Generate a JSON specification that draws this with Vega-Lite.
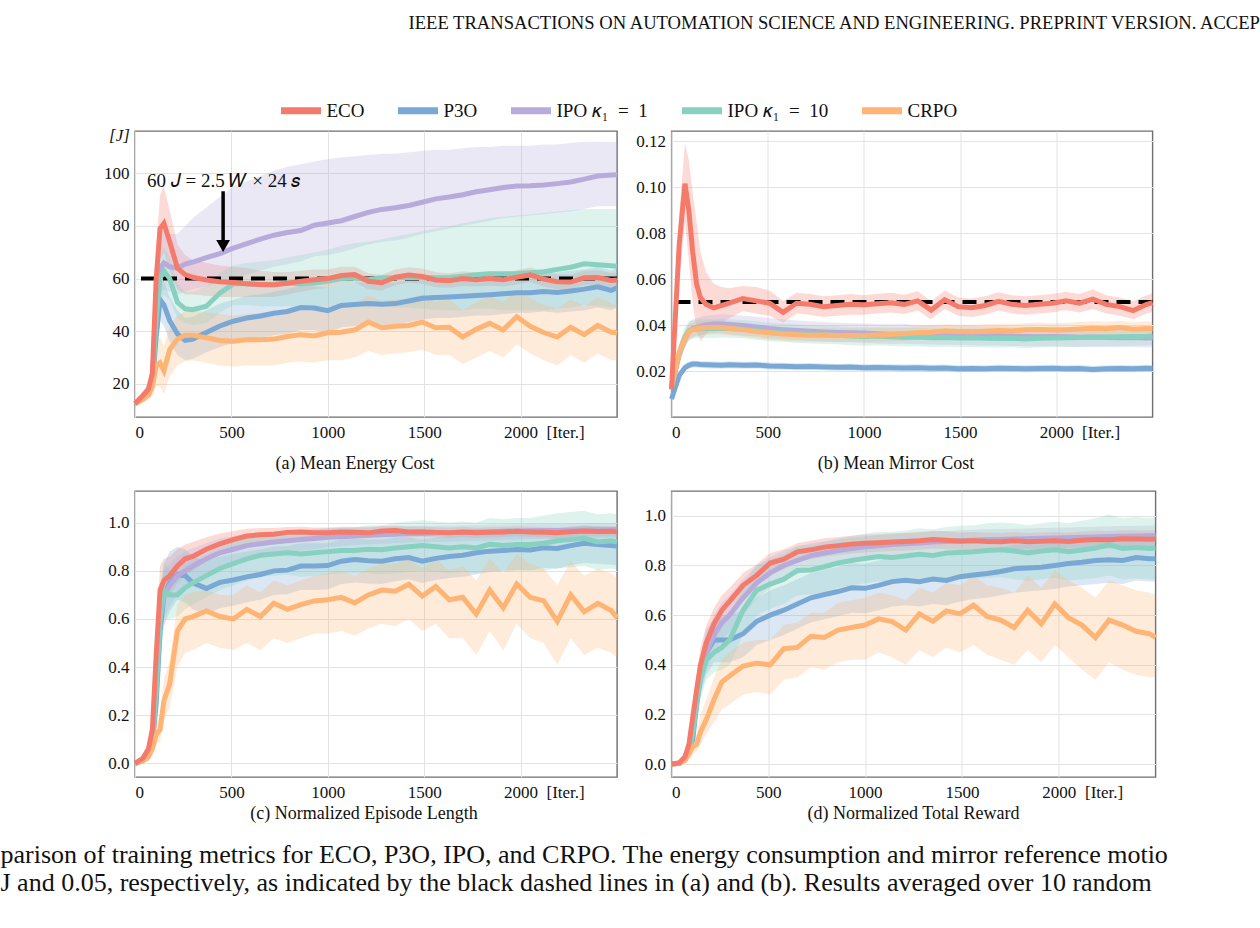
{
  "$schema": "https://vega.github.io/schema/vega-lite/v6.json",
  "background": "white",
  "padding": {"left": 0, "top": 13, "right": 0, "bottom": 0},
  "title": {
    "text": "IEEE TRANSACTIONS ON AUTOMATION SCIENCE AND ENGINEERING. PREPRINT VERSION. ACCEP",
    "orient": "top", "anchor": "start", "frame": "group", "dx": 273.5, "offset": 54,
    "font": "Liberation Serif", "fontSize": 18.6, "fontWeight": "normal", "color": "#111"
  },
  "datasets": {
    "energy": [
      {"algo":"ECO","it":0,"m":12.5,"lo":11.5,"hi":13.5},{"algo":"ECO","it":40,"m":15.5,"lo":14.5,"hi":16.8},{"algo":"ECO","it":70,"m":18,"lo":16,"hi":20.5},{"algo":"ECO","it":90,"m":24,"lo":19,"hi":31},{"algo":"ECO","it":110,"m":60,"lo":48,"hi":72},{"algo":"ECO","it":130,"m":79,"lo":67,"hi":92},{"algo":"ECO","it":150,"m":81,"lo":70,"hi":95},{"algo":"ECO","it":180,"m":74,"lo":63,"hi":86},{"algo":"ECO","it":220,"m":64,"lo":56,"hi":73},{"algo":"ECO","it":260,"m":61.5,"lo":54,"hi":69},{"algo":"ECO","it":300,"m":60.5,"lo":54,"hi":67},{"algo":"ECO","it":370,"m":59.5,"lo":53.5,"hi":66},{"algo":"ECO","it":440,"m":58.8,"lo":53,"hi":65},{"algo":"ECO","it":510,"m":58.5,"lo":53,"hi":64.5},{"algo":"ECO","it":580,"m":58,"lo":53,"hi":64},{"algo":"ECO","it":650,"m":57.8,"lo":53,"hi":63},{"algo":"ECO","it":720,"m":57.7,"lo":53,"hi":62.5},{"algo":"ECO","it":790,"m":58.2,"lo":54,"hi":62.5},{"algo":"ECO","it":860,"m":59,"lo":55,"hi":63},{"algo":"ECO","it":930,"m":59.6,"lo":56,"hi":63.5},{"algo":"ECO","it":1000,"m":60,"lo":56.5,"hi":63.5},{"algo":"ECO","it":1070,"m":61.2,"lo":58,"hi":64.5},{"algo":"ECO","it":1140,"m":61.5,"lo":58.5,"hi":64.5},{"algo":"ECO","it":1210,"m":59,"lo":56,"hi":62},{"algo":"ECO","it":1280,"m":58.4,"lo":55.5,"hi":61.5},{"algo":"ECO","it":1350,"m":60.5,"lo":57.5,"hi":63.5},{"algo":"ECO","it":1420,"m":61.4,"lo":58.5,"hi":64.3},{"algo":"ECO","it":1490,"m":60.8,"lo":58,"hi":63.8},{"algo":"ECO","it":1560,"m":59.5,"lo":56.7,"hi":62.4},{"algo":"ECO","it":1630,"m":59.2,"lo":56.5,"hi":62},{"algo":"ECO","it":1700,"m":60,"lo":57.2,"hi":62.8},{"algo":"ECO","it":1770,"m":59.6,"lo":57,"hi":62.4},{"algo":"ECO","it":1840,"m":60,"lo":57.3,"hi":62.8},{"algo":"ECO","it":1910,"m":59.6,"lo":57,"hi":62.3},{"algo":"ECO","it":1980,"m":60.5,"lo":57.8,"hi":63.2},{"algo":"ECO","it":2050,"m":61.4,"lo":58.7,"hi":64.2},{"algo":"ECO","it":2120,"m":59.8,"lo":57,"hi":62.6},{"algo":"ECO","it":2190,"m":58.8,"lo":56,"hi":61.6},{"algo":"ECO","it":2260,"m":58.7,"lo":56,"hi":61.5},{"algo":"ECO","it":2330,"m":60.3,"lo":57.5,"hi":63.1},{"algo":"ECO","it":2400,"m":60.4,"lo":57.6,"hi":63.2},{"algo":"ECO","it":2470,"m":59.3,"lo":56.5,"hi":62.1},{"algo":"ECO","it":2500,"m":59.5,"lo":56.7,"hi":62.3},
      {"algo":"P3O","it":0,"m":12.5,"lo":11.5,"hi":13.5},{"algo":"P3O","it":40,"m":14.5,"lo":13.5,"hi":15.8},{"algo":"P3O","it":70,"m":16,"lo":14.5,"hi":17.8},{"algo":"P3O","it":90,"m":20,"lo":16,"hi":25},{"algo":"P3O","it":110,"m":38,"lo":30,"hi":47},{"algo":"P3O","it":130,"m":52,"lo":44,"hi":62},{"algo":"P3O","it":150,"m":50,"lo":42,"hi":59},{"algo":"P3O","it":180,"m":44,"lo":36,"hi":53},{"algo":"P3O","it":220,"m":39,"lo":31,"hi":48},{"algo":"P3O","it":260,"m":36.5,"lo":29,"hi":45},{"algo":"P3O","it":300,"m":37,"lo":29.5,"hi":45.5},{"algo":"P3O","it":370,"m":39.5,"lo":32,"hi":48},{"algo":"P3O","it":440,"m":42,"lo":34,"hi":50.5},{"algo":"P3O","it":510,"m":43.8,"lo":35.5,"hi":52},{"algo":"P3O","it":580,"m":45,"lo":37,"hi":53.5},{"algo":"P3O","it":650,"m":45.8,"lo":37.5,"hi":54},{"algo":"P3O","it":720,"m":46.8,"lo":38.5,"hi":55},{"algo":"P3O","it":790,"m":47.5,"lo":39,"hi":56},{"algo":"P3O","it":860,"m":49,"lo":40.5,"hi":57.5},{"algo":"P3O","it":930,"m":48.8,"lo":40.5,"hi":57},{"algo":"P3O","it":1000,"m":47.8,"lo":39.5,"hi":56.5},{"algo":"P3O","it":1070,"m":49.8,"lo":41.5,"hi":58},{"algo":"P3O","it":1140,"m":50.2,"lo":42,"hi":58.5},{"algo":"P3O","it":1210,"m":50.5,"lo":42.5,"hi":58.5},{"algo":"P3O","it":1280,"m":50.3,"lo":42.5,"hi":58.5},{"algo":"P3O","it":1350,"m":50.5,"lo":42.5,"hi":58.5},{"algo":"P3O","it":1420,"m":51.5,"lo":43.5,"hi":59.5},{"algo":"P3O","it":1490,"m":52.5,"lo":44.5,"hi":60.5},{"algo":"P3O","it":1560,"m":52.8,"lo":45,"hi":60.5},{"algo":"P3O","it":1630,"m":53,"lo":45,"hi":61},{"algo":"P3O","it":1700,"m":53.3,"lo":45.5,"hi":61},{"algo":"P3O","it":1770,"m":53.6,"lo":46,"hi":61.5},{"algo":"P3O","it":1840,"m":53.9,"lo":46,"hi":61.5},{"algo":"P3O","it":1910,"m":54.2,"lo":46.5,"hi":62},{"algo":"P3O","it":1980,"m":54.6,"lo":47,"hi":62},{"algo":"P3O","it":2050,"m":54.6,"lo":47,"hi":62.3},{"algo":"P3O","it":2120,"m":55.1,"lo":47.5,"hi":62.7},{"algo":"P3O","it":2190,"m":54.7,"lo":47,"hi":62.3},{"algo":"P3O","it":2260,"m":55.3,"lo":47.5,"hi":63},{"algo":"P3O","it":2330,"m":56,"lo":48,"hi":63.5},{"algo":"P3O","it":2400,"m":56.9,"lo":49,"hi":64.5},{"algo":"P3O","it":2470,"m":55.5,"lo":48,"hi":63},{"algo":"P3O","it":2500,"m":56.5,"lo":49,"hi":64},
      {"algo":"IPO1","it":0,"m":12.5,"lo":11.5,"hi":13.5},{"algo":"IPO1","it":40,"m":14.5,"lo":13.5,"hi":15.8},{"algo":"IPO1","it":70,"m":16.5,"lo":15,"hi":18.5},{"algo":"IPO1","it":90,"m":22,"lo":17,"hi":28},{"algo":"IPO1","it":110,"m":50,"lo":40,"hi":60},{"algo":"IPO1","it":130,"m":64,"lo":54,"hi":75},{"algo":"IPO1","it":150,"m":66,"lo":56,"hi":78},{"algo":"IPO1","it":180,"m":64.5,"lo":55,"hi":77},{"algo":"IPO1","it":220,"m":64,"lo":54,"hi":77},{"algo":"IPO1","it":260,"m":65.5,"lo":55,"hi":80},{"algo":"IPO1","it":300,"m":66.3,"lo":56,"hi":83},{"algo":"IPO1","it":370,"m":68,"lo":57,"hi":87},{"algo":"IPO1","it":440,"m":69.5,"lo":58.5,"hi":91},{"algo":"IPO1","it":510,"m":71.6,"lo":60,"hi":95},{"algo":"IPO1","it":580,"m":73.3,"lo":61.5,"hi":97},{"algo":"IPO1","it":650,"m":75,"lo":63,"hi":99},{"algo":"IPO1","it":720,"m":76.5,"lo":64.5,"hi":101},{"algo":"IPO1","it":790,"m":77.5,"lo":65.5,"hi":102.5},{"algo":"IPO1","it":860,"m":78.3,"lo":66.5,"hi":103.5},{"algo":"IPO1","it":930,"m":80.3,"lo":68.5,"hi":104.5},{"algo":"IPO1","it":1000,"m":81.1,"lo":69,"hi":105.5},{"algo":"IPO1","it":1070,"m":82,"lo":70,"hi":106},{"algo":"IPO1","it":1140,"m":83.6,"lo":71.5,"hi":106.5},{"algo":"IPO1","it":1210,"m":85.2,"lo":73,"hi":107},{"algo":"IPO1","it":1280,"m":86.3,"lo":74,"hi":107.5},{"algo":"IPO1","it":1350,"m":86.9,"lo":74.5,"hi":107.5},{"algo":"IPO1","it":1420,"m":87.8,"lo":75.5,"hi":108},{"algo":"IPO1","it":1490,"m":89,"lo":77,"hi":108.5},{"algo":"IPO1","it":1560,"m":90.3,"lo":78,"hi":109},{"algo":"IPO1","it":1630,"m":91,"lo":79,"hi":109},{"algo":"IPO1","it":1700,"m":91.9,"lo":80,"hi":109.5},{"algo":"IPO1","it":1770,"m":93,"lo":81,"hi":110},{"algo":"IPO1","it":1840,"m":93.8,"lo":82,"hi":110},{"algo":"IPO1","it":1910,"m":94.6,"lo":83,"hi":110.5},{"algo":"IPO1","it":1980,"m":95.2,"lo":83.5,"hi":110.5},{"algo":"IPO1","it":2050,"m":95.3,"lo":84,"hi":110.5},{"algo":"IPO1","it":2120,"m":95.6,"lo":84.5,"hi":111},{"algo":"IPO1","it":2190,"m":96.1,"lo":85,"hi":111},{"algo":"IPO1","it":2260,"m":96.7,"lo":85.5,"hi":111.5},{"algo":"IPO1","it":2330,"m":97.8,"lo":86.5,"hi":112},{"algo":"IPO1","it":2400,"m":99,"lo":87.5,"hi":112},{"algo":"IPO1","it":2470,"m":99.4,"lo":87.5,"hi":112},{"algo":"IPO1","it":2500,"m":99.5,"lo":87.5,"hi":112},
      {"algo":"IPO10","it":0,"m":12.5,"lo":11.5,"hi":13.5},{"algo":"IPO10","it":40,"m":14.5,"lo":13.5,"hi":15.8},{"algo":"IPO10","it":70,"m":16.5,"lo":15,"hi":18.5},{"algo":"IPO10","it":90,"m":21,"lo":16.5,"hi":26},{"algo":"IPO10","it":110,"m":45,"lo":37,"hi":54},{"algo":"IPO10","it":130,"m":60,"lo":51,"hi":69},{"algo":"IPO10","it":150,"m":63,"lo":54,"hi":72},{"algo":"IPO10","it":180,"m":60,"lo":52,"hi":68},{"algo":"IPO10","it":220,"m":51,"lo":45,"hi":58},{"algo":"IPO10","it":260,"m":48.5,"lo":43,"hi":55},{"algo":"IPO10","it":300,"m":48.2,"lo":42.5,"hi":55},{"algo":"IPO10","it":370,"m":49.5,"lo":43,"hi":57},{"algo":"IPO10","it":440,"m":54.5,"lo":47,"hi":62},{"algo":"IPO10","it":510,"m":58,"lo":50,"hi":65},{"algo":"IPO10","it":580,"m":58,"lo":50,"hi":66},{"algo":"IPO10","it":650,"m":57.7,"lo":49.5,"hi":66.5},{"algo":"IPO10","it":720,"m":57.8,"lo":49.5,"hi":67},{"algo":"IPO10","it":790,"m":58.3,"lo":49.5,"hi":68},{"algo":"IPO10","it":860,"m":58,"lo":49,"hi":69},{"algo":"IPO10","it":930,"m":58.3,"lo":49,"hi":70},{"algo":"IPO10","it":1000,"m":59,"lo":49.5,"hi":71},{"algo":"IPO10","it":1070,"m":60,"lo":50,"hi":72.5},{"algo":"IPO10","it":1140,"m":60.2,"lo":50,"hi":73.5},{"algo":"IPO10","it":1210,"m":59.6,"lo":49,"hi":74},{"algo":"IPO10","it":1280,"m":60.3,"lo":49.5,"hi":75},{"algo":"IPO10","it":1350,"m":60.3,"lo":49,"hi":76},{"algo":"IPO10","it":1420,"m":60.5,"lo":49,"hi":77},{"algo":"IPO10","it":1490,"m":60.4,"lo":48.5,"hi":78},{"algo":"IPO10","it":1560,"m":60.3,"lo":48,"hi":79},{"algo":"IPO10","it":1630,"m":60.4,"lo":48,"hi":80},{"algo":"IPO10","it":1700,"m":60.9,"lo":48,"hi":81},{"algo":"IPO10","it":1770,"m":61.5,"lo":48.5,"hi":82},{"algo":"IPO10","it":1840,"m":61.8,"lo":48.5,"hi":83},{"algo":"IPO10","it":1910,"m":61.8,"lo":48,"hi":83.5},{"algo":"IPO10","it":1980,"m":61.9,"lo":48,"hi":84},{"algo":"IPO10","it":2050,"m":62.2,"lo":48,"hi":84.5},{"algo":"IPO10","it":2120,"m":62.6,"lo":48,"hi":85},{"algo":"IPO10","it":2190,"m":63.5,"lo":48.5,"hi":85.5},{"algo":"IPO10","it":2260,"m":64.3,"lo":49,"hi":86},{"algo":"IPO10","it":2330,"m":65.6,"lo":50,"hi":86.5},{"algo":"IPO10","it":2400,"m":65.3,"lo":49.5,"hi":86.5},{"algo":"IPO10","it":2470,"m":64.9,"lo":49,"hi":86.5},{"algo":"IPO10","it":2500,"m":64.7,"lo":49,"hi":86.5},
      {"algo":"CRPO","it":0,"m":12.5,"lo":11.5,"hi":13.5},{"algo":"CRPO","it":40,"m":14,"lo":13,"hi":15.5},{"algo":"CRPO","it":70,"m":16,"lo":14,"hi":18.5},{"algo":"CRPO","it":90,"m":19,"lo":15,"hi":24},{"algo":"CRPO","it":110,"m":27,"lo":19,"hi":35},{"algo":"CRPO","it":130,"m":28,"lo":19,"hi":38},{"algo":"CRPO","it":150,"m":25,"lo":16,"hi":34},{"algo":"CRPO","it":180,"m":33,"lo":23,"hi":42},{"algo":"CRPO","it":220,"m":37,"lo":27,"hi":46},{"algo":"CRPO","it":260,"m":38.5,"lo":28.5,"hi":47.5},{"algo":"CRPO","it":300,"m":38.5,"lo":29,"hi":48},{"algo":"CRPO","it":370,"m":37.5,"lo":28,"hi":47},{"algo":"CRPO","it":440,"m":36.5,"lo":27,"hi":46.5},{"algo":"CRPO","it":510,"m":36.2,"lo":26.5,"hi":46},{"algo":"CRPO","it":580,"m":36.8,"lo":27,"hi":46.5},{"algo":"CRPO","it":650,"m":36.8,"lo":27,"hi":47},{"algo":"CRPO","it":720,"m":37,"lo":27,"hi":47},{"algo":"CRPO","it":790,"m":38,"lo":28,"hi":48},{"algo":"CRPO","it":860,"m":38.7,"lo":28.5,"hi":48.5},{"algo":"CRPO","it":930,"m":38.2,"lo":28,"hi":48.5},{"algo":"CRPO","it":1000,"m":39.4,"lo":29,"hi":49.5},{"algo":"CRPO","it":1070,"m":39.6,"lo":29,"hi":50},{"algo":"CRPO","it":1140,"m":40.5,"lo":30,"hi":50.5},{"algo":"CRPO","it":1210,"m":43.5,"lo":32.5,"hi":53.5},{"algo":"CRPO","it":1280,"m":41.3,"lo":31,"hi":51.5},{"algo":"CRPO","it":1350,"m":41.9,"lo":31.5,"hi":52},{"algo":"CRPO","it":1420,"m":42.2,"lo":32,"hi":52.5},{"algo":"CRPO","it":1490,"m":43.5,"lo":33,"hi":54},{"algo":"CRPO","it":1560,"m":41.3,"lo":31,"hi":51.5},{"algo":"CRPO","it":1630,"m":41.5,"lo":31,"hi":52},{"algo":"CRPO","it":1700,"m":37.8,"lo":27.5,"hi":48},{"algo":"CRPO","it":1770,"m":40.8,"lo":30,"hi":51},{"algo":"CRPO","it":1840,"m":43,"lo":32.5,"hi":53.5},{"algo":"CRPO","it":1910,"m":40.5,"lo":30,"hi":51},{"algo":"CRPO","it":1980,"m":45.5,"lo":35,"hi":55.5},{"algo":"CRPO","it":2050,"m":41.9,"lo":31.5,"hi":52.5},{"algo":"CRPO","it":2120,"m":39.5,"lo":29,"hi":50},{"algo":"CRPO","it":2190,"m":37.8,"lo":27,"hi":48.5},{"algo":"CRPO","it":2260,"m":41.5,"lo":31,"hi":52},{"algo":"CRPO","it":2330,"m":38.7,"lo":28,"hi":49.5},{"algo":"CRPO","it":2400,"m":42.2,"lo":31.5,"hi":53},{"algo":"CRPO","it":2470,"m":39.6,"lo":29,"hi":50.5},{"algo":"CRPO","it":2500,"m":39.4,"lo":29,"hi":50}
    ],
    "mirror": [
      {"algo":"ECO","it":0,"m":0.012,"lo":0.010,"hi":0.014},{"algo":"ECO","it":40,"m":0.075,"lo":0.06,"hi":0.088},{"algo":"ECO","it":70,"m":0.1015,"lo":0.085,"hi":0.119},{"algo":"ECO","it":90,"m":0.09,"lo":0.068,"hi":0.112},{"algo":"ECO","it":110,"m":0.072,"lo":0.05,"hi":0.098},{"algo":"ECO","it":130,"m":0.058,"lo":0.038,"hi":0.085},{"algo":"ECO","it":150,"m":0.052,"lo":0.033,"hi":0.072},{"algo":"ECO","it":180,"m":0.049,"lo":0.036,"hi":0.063},{"algo":"ECO","it":220,"m":0.0475,"lo":0.039,"hi":0.058},{"algo":"ECO","it":260,"m":0.0485,"lo":0.041,"hi":0.0565},{"algo":"ECO","it":300,"m":0.0495,"lo":0.043,"hi":0.056},{"algo":"ECO","it":370,"m":0.0515,"lo":0.046,"hi":0.057},{"algo":"ECO","it":440,"m":0.0505,"lo":0.045,"hi":0.0565},{"algo":"ECO","it":510,"m":0.0495,"lo":0.044,"hi":0.055},{"algo":"ECO","it":580,"m":0.0455,"lo":0.041,"hi":0.0505},{"algo":"ECO","it":650,"m":0.0495,"lo":0.045,"hi":0.054},{"algo":"ECO","it":720,"m":0.049,"lo":0.0445,"hi":0.0535},{"algo":"ECO","it":790,"m":0.048,"lo":0.0435,"hi":0.0525},{"algo":"ECO","it":860,"m":0.0485,"lo":0.044,"hi":0.053},{"algo":"ECO","it":930,"m":0.049,"lo":0.0445,"hi":0.0535},{"algo":"ECO","it":1000,"m":0.0488,"lo":0.0445,"hi":0.053},{"algo":"ECO","it":1070,"m":0.0493,"lo":0.045,"hi":0.0536},{"algo":"ECO","it":1140,"m":0.0497,"lo":0.0455,"hi":0.054},{"algo":"ECO","it":1210,"m":0.049,"lo":0.0448,"hi":0.0532},{"algo":"ECO","it":1280,"m":0.0505,"lo":0.0463,"hi":0.0547},{"algo":"ECO","it":1350,"m":0.0465,"lo":0.0425,"hi":0.0505},{"algo":"ECO","it":1420,"m":0.051,"lo":0.047,"hi":0.055},{"algo":"ECO","it":1490,"m":0.048,"lo":0.044,"hi":0.052},{"algo":"ECO","it":1560,"m":0.0475,"lo":0.0435,"hi":0.0515},{"algo":"ECO","it":1630,"m":0.0485,"lo":0.0445,"hi":0.0525},{"algo":"ECO","it":1700,"m":0.0503,"lo":0.0463,"hi":0.0543},{"algo":"ECO","it":1770,"m":0.049,"lo":0.045,"hi":0.053},{"algo":"ECO","it":1840,"m":0.0485,"lo":0.0445,"hi":0.0525},{"algo":"ECO","it":1910,"m":0.049,"lo":0.045,"hi":0.053},{"algo":"ECO","it":1980,"m":0.0495,"lo":0.0455,"hi":0.0535},{"algo":"ECO","it":2050,"m":0.0505,"lo":0.0465,"hi":0.0545},{"algo":"ECO","it":2120,"m":0.0495,"lo":0.0455,"hi":0.0535},{"algo":"ECO","it":2190,"m":0.0513,"lo":0.047,"hi":0.0556},{"algo":"ECO","it":2260,"m":0.049,"lo":0.045,"hi":0.053},{"algo":"ECO","it":2330,"m":0.048,"lo":0.044,"hi":0.052},{"algo":"ECO","it":2400,"m":0.0463,"lo":0.0425,"hi":0.0503},{"algo":"ECO","it":2470,"m":0.049,"lo":0.045,"hi":0.053},{"algo":"ECO","it":2500,"m":0.0498,"lo":0.0458,"hi":0.0538},
      {"algo":"P3O","it":0,"m":0.0078,"lo":0.0068,"hi":0.0088},{"algo":"P3O","it":40,"m":0.018,"lo":0.0165,"hi":0.0195},{"algo":"P3O","it":70,"m":0.0215,"lo":0.02,"hi":0.023},{"algo":"P3O","it":90,"m":0.0225,"lo":0.021,"hi":0.024},{"algo":"P3O","it":110,"m":0.023,"lo":0.0215,"hi":0.0245},{"algo":"P3O","it":130,"m":0.023,"lo":0.0215,"hi":0.0245},{"algo":"P3O","it":150,"m":0.0228,"lo":0.0213,"hi":0.0243},{"algo":"P3O","it":180,"m":0.0227,"lo":0.0212,"hi":0.0242},{"algo":"P3O","it":220,"m":0.0226,"lo":0.0211,"hi":0.0241},{"algo":"P3O","it":260,"m":0.0225,"lo":0.021,"hi":0.024},{"algo":"P3O","it":300,"m":0.0227,"lo":0.0212,"hi":0.0242},{"algo":"P3O","it":370,"m":0.0225,"lo":0.021,"hi":0.024},{"algo":"P3O","it":440,"m":0.0226,"lo":0.0211,"hi":0.0241},{"algo":"P3O","it":510,"m":0.0222,"lo":0.0207,"hi":0.0237},{"algo":"P3O","it":580,"m":0.0221,"lo":0.0206,"hi":0.0236},{"algo":"P3O","it":650,"m":0.0219,"lo":0.0204,"hi":0.0234},{"algo":"P3O","it":720,"m":0.022,"lo":0.0205,"hi":0.0235},{"algo":"P3O","it":790,"m":0.0218,"lo":0.0203,"hi":0.0233},{"algo":"P3O","it":860,"m":0.0216,"lo":0.0201,"hi":0.0231},{"algo":"P3O","it":930,"m":0.0217,"lo":0.0202,"hi":0.0232},{"algo":"P3O","it":1000,"m":0.0214,"lo":0.0199,"hi":0.0229},{"algo":"P3O","it":1070,"m":0.0215,"lo":0.02,"hi":0.023},{"algo":"P3O","it":1140,"m":0.0214,"lo":0.0199,"hi":0.0229},{"algo":"P3O","it":1210,"m":0.0213,"lo":0.0198,"hi":0.0228},{"algo":"P3O","it":1280,"m":0.0214,"lo":0.0199,"hi":0.0229},{"algo":"P3O","it":1350,"m":0.0212,"lo":0.0197,"hi":0.0227},{"algo":"P3O","it":1420,"m":0.0213,"lo":0.0198,"hi":0.0228},{"algo":"P3O","it":1490,"m":0.021,"lo":0.0195,"hi":0.0225},{"algo":"P3O","it":1560,"m":0.0211,"lo":0.0196,"hi":0.0226},{"algo":"P3O","it":1630,"m":0.021,"lo":0.0195,"hi":0.0225},{"algo":"P3O","it":1700,"m":0.0212,"lo":0.0197,"hi":0.0227},{"algo":"P3O","it":1770,"m":0.0211,"lo":0.0196,"hi":0.0226},{"algo":"P3O","it":1840,"m":0.021,"lo":0.0195,"hi":0.0225},{"algo":"P3O","it":1910,"m":0.0211,"lo":0.0196,"hi":0.0226},{"algo":"P3O","it":1980,"m":0.0212,"lo":0.0197,"hi":0.0227},{"algo":"P3O","it":2050,"m":0.021,"lo":0.0195,"hi":0.0225},{"algo":"P3O","it":2120,"m":0.0211,"lo":0.0196,"hi":0.0226},{"algo":"P3O","it":2190,"m":0.0207,"lo":0.0192,"hi":0.0222},{"algo":"P3O","it":2260,"m":0.021,"lo":0.0195,"hi":0.0225},{"algo":"P3O","it":2330,"m":0.0211,"lo":0.0196,"hi":0.0226},{"algo":"P3O","it":2400,"m":0.021,"lo":0.0195,"hi":0.0225},{"algo":"P3O","it":2470,"m":0.0212,"lo":0.0197,"hi":0.0227},{"algo":"P3O","it":2500,"m":0.0211,"lo":0.0196,"hi":0.0226},
      {"algo":"IPO1","it":0,"m":0.013,"lo":0.011,"hi":0.015},{"algo":"IPO1","it":40,"m":0.027,"lo":0.024,"hi":0.031},{"algo":"IPO1","it":70,"m":0.034,"lo":0.03,"hi":0.038},{"algo":"IPO1","it":90,"m":0.037,"lo":0.033,"hi":0.041},{"algo":"IPO1","it":110,"m":0.0385,"lo":0.0345,"hi":0.0425},{"algo":"IPO1","it":130,"m":0.039,"lo":0.035,"hi":0.043},{"algo":"IPO1","it":150,"m":0.0395,"lo":0.0355,"hi":0.0435},{"algo":"IPO1","it":180,"m":0.04,"lo":0.036,"hi":0.044},{"algo":"IPO1","it":220,"m":0.0405,"lo":0.0365,"hi":0.0445},{"algo":"IPO1","it":260,"m":0.0405,"lo":0.0365,"hi":0.0447},{"algo":"IPO1","it":300,"m":0.0402,"lo":0.036,"hi":0.0445},{"algo":"IPO1","it":370,"m":0.0398,"lo":0.0355,"hi":0.0442},{"algo":"IPO1","it":440,"m":0.0392,"lo":0.035,"hi":0.0436},{"algo":"IPO1","it":510,"m":0.0385,"lo":0.0343,"hi":0.043},{"algo":"IPO1","it":580,"m":0.038,"lo":0.0338,"hi":0.0425},{"algo":"IPO1","it":650,"m":0.0376,"lo":0.0335,"hi":0.042},{"algo":"IPO1","it":720,"m":0.0373,"lo":0.0332,"hi":0.0416},{"algo":"IPO1","it":790,"m":0.037,"lo":0.0328,"hi":0.0413},{"algo":"IPO1","it":860,"m":0.0368,"lo":0.0326,"hi":0.041},{"algo":"IPO1","it":930,"m":0.0366,"lo":0.0325,"hi":0.0408},{"algo":"IPO1","it":1000,"m":0.0365,"lo":0.0323,"hi":0.0407},{"algo":"IPO1","it":1070,"m":0.0362,"lo":0.032,"hi":0.0405},{"algo":"IPO1","it":1140,"m":0.036,"lo":0.0318,"hi":0.0403},{"algo":"IPO1","it":1210,"m":0.0361,"lo":0.0319,"hi":0.0404},{"algo":"IPO1","it":1280,"m":0.0358,"lo":0.0316,"hi":0.04},{"algo":"IPO1","it":1350,"m":0.0357,"lo":0.0315,"hi":0.04},{"algo":"IPO1","it":1420,"m":0.0356,"lo":0.0314,"hi":0.0399},{"algo":"IPO1","it":1490,"m":0.0355,"lo":0.0313,"hi":0.0398},{"algo":"IPO1","it":1560,"m":0.0354,"lo":0.0312,"hi":0.0397},{"algo":"IPO1","it":1630,"m":0.0352,"lo":0.031,"hi":0.0395},{"algo":"IPO1","it":1700,"m":0.0353,"lo":0.0311,"hi":0.0396},{"algo":"IPO1","it":1770,"m":0.0351,"lo":0.0309,"hi":0.0394},{"algo":"IPO1","it":1840,"m":0.035,"lo":0.0308,"hi":0.0393},{"algo":"IPO1","it":1910,"m":0.0349,"lo":0.0307,"hi":0.0392},{"algo":"IPO1","it":1980,"m":0.035,"lo":0.0308,"hi":0.0393},{"algo":"IPO1","it":2050,"m":0.0349,"lo":0.0307,"hi":0.0392},{"algo":"IPO1","it":2120,"m":0.0347,"lo":0.0305,"hi":0.039},{"algo":"IPO1","it":2190,"m":0.0348,"lo":0.0306,"hi":0.0391},{"algo":"IPO1","it":2260,"m":0.0346,"lo":0.0304,"hi":0.0389},{"algo":"IPO1","it":2330,"m":0.0345,"lo":0.0303,"hi":0.0388},{"algo":"IPO1","it":2400,"m":0.0346,"lo":0.0304,"hi":0.0389},{"algo":"IPO1","it":2470,"m":0.0344,"lo":0.0302,"hi":0.0387},{"algo":"IPO1","it":2500,"m":0.0345,"lo":0.0303,"hi":0.0388},
      {"algo":"IPO10","it":0,"m":0.013,"lo":0.011,"hi":0.015},{"algo":"IPO10","it":40,"m":0.028,"lo":0.025,"hi":0.032},{"algo":"IPO10","it":70,"m":0.035,"lo":0.031,"hi":0.039},{"algo":"IPO10","it":90,"m":0.0375,"lo":0.0335,"hi":0.0415},{"algo":"IPO10","it":110,"m":0.038,"lo":0.034,"hi":0.042},{"algo":"IPO10","it":130,"m":0.0382,"lo":0.0342,"hi":0.0422},{"algo":"IPO10","it":150,"m":0.0385,"lo":0.0345,"hi":0.0425},{"algo":"IPO10","it":180,"m":0.0385,"lo":0.0345,"hi":0.0425},{"algo":"IPO10","it":220,"m":0.0384,"lo":0.0344,"hi":0.0424},{"algo":"IPO10","it":260,"m":0.0386,"lo":0.0346,"hi":0.0426},{"algo":"IPO10","it":300,"m":0.0385,"lo":0.0345,"hi":0.0425},{"algo":"IPO10","it":370,"m":0.0382,"lo":0.0342,"hi":0.0422},{"algo":"IPO10","it":440,"m":0.0376,"lo":0.0336,"hi":0.0416},{"algo":"IPO10","it":510,"m":0.037,"lo":0.033,"hi":0.041},{"algo":"IPO10","it":580,"m":0.0367,"lo":0.0327,"hi":0.0407},{"algo":"IPO10","it":650,"m":0.0363,"lo":0.0323,"hi":0.0403},{"algo":"IPO10","it":720,"m":0.036,"lo":0.032,"hi":0.04},{"algo":"IPO10","it":790,"m":0.0358,"lo":0.0318,"hi":0.0398},{"algo":"IPO10","it":860,"m":0.0356,"lo":0.0316,"hi":0.0396},{"algo":"IPO10","it":930,"m":0.0352,"lo":0.0312,"hi":0.0392},{"algo":"IPO10","it":1000,"m":0.035,"lo":0.031,"hi":0.039},{"algo":"IPO10","it":1070,"m":0.0352,"lo":0.0312,"hi":0.0392},{"algo":"IPO10","it":1140,"m":0.0349,"lo":0.0309,"hi":0.0389},{"algo":"IPO10","it":1210,"m":0.0347,"lo":0.0307,"hi":0.0387},{"algo":"IPO10","it":1280,"m":0.0348,"lo":0.0308,"hi":0.0388},{"algo":"IPO10","it":1350,"m":0.0345,"lo":0.0305,"hi":0.0385},{"algo":"IPO10","it":1420,"m":0.0346,"lo":0.0306,"hi":0.0386},{"algo":"IPO10","it":1490,"m":0.0344,"lo":0.0304,"hi":0.0384},{"algo":"IPO10","it":1560,"m":0.0345,"lo":0.0305,"hi":0.0385},{"algo":"IPO10","it":1630,"m":0.0342,"lo":0.0302,"hi":0.0382},{"algo":"IPO10","it":1700,"m":0.0341,"lo":0.0301,"hi":0.0381},{"algo":"IPO10","it":1770,"m":0.0343,"lo":0.0303,"hi":0.0383},{"algo":"IPO10","it":1840,"m":0.0339,"lo":0.0299,"hi":0.0379},{"algo":"IPO10","it":1910,"m":0.0343,"lo":0.0303,"hi":0.0383},{"algo":"IPO10","it":1980,"m":0.0344,"lo":0.0304,"hi":0.0384},{"algo":"IPO10","it":2050,"m":0.0345,"lo":0.0305,"hi":0.0385},{"algo":"IPO10","it":2120,"m":0.0346,"lo":0.0306,"hi":0.0386},{"algo":"IPO10","it":2190,"m":0.0347,"lo":0.0307,"hi":0.0387},{"algo":"IPO10","it":2260,"m":0.0348,"lo":0.0308,"hi":0.0388},{"algo":"IPO10","it":2330,"m":0.0349,"lo":0.0309,"hi":0.0389},{"algo":"IPO10","it":2400,"m":0.035,"lo":0.031,"hi":0.039},{"algo":"IPO10","it":2470,"m":0.0351,"lo":0.0311,"hi":0.0391},{"algo":"IPO10","it":2500,"m":0.0352,"lo":0.0312,"hi":0.0392},
      {"algo":"CRPO","it":0,"m":0.013,"lo":0.011,"hi":0.015},{"algo":"CRPO","it":40,"m":0.028,"lo":0.025,"hi":0.031},{"algo":"CRPO","it":70,"m":0.034,"lo":0.031,"hi":0.037},{"algo":"CRPO","it":90,"m":0.037,"lo":0.034,"hi":0.04},{"algo":"CRPO","it":110,"m":0.038,"lo":0.035,"hi":0.041},{"algo":"CRPO","it":130,"m":0.0385,"lo":0.0355,"hi":0.0415},{"algo":"CRPO","it":150,"m":0.0387,"lo":0.0357,"hi":0.0417},{"algo":"CRPO","it":180,"m":0.0389,"lo":0.0359,"hi":0.0419},{"algo":"CRPO","it":220,"m":0.039,"lo":0.036,"hi":0.042},{"algo":"CRPO","it":260,"m":0.0389,"lo":0.0359,"hi":0.0419},{"algo":"CRPO","it":300,"m":0.0386,"lo":0.0356,"hi":0.0416},{"algo":"CRPO","it":370,"m":0.038,"lo":0.035,"hi":0.041},{"algo":"CRPO","it":440,"m":0.0372,"lo":0.0342,"hi":0.0402},{"algo":"CRPO","it":510,"m":0.0366,"lo":0.0336,"hi":0.0396},{"algo":"CRPO","it":580,"m":0.0361,"lo":0.0331,"hi":0.0391},{"algo":"CRPO","it":650,"m":0.0358,"lo":0.0328,"hi":0.0388},{"algo":"CRPO","it":720,"m":0.0356,"lo":0.0326,"hi":0.0386},{"algo":"CRPO","it":790,"m":0.0357,"lo":0.0327,"hi":0.0387},{"algo":"CRPO","it":860,"m":0.0355,"lo":0.0325,"hi":0.0385},{"algo":"CRPO","it":930,"m":0.0356,"lo":0.0326,"hi":0.0386},{"algo":"CRPO","it":1000,"m":0.0355,"lo":0.0325,"hi":0.0385},{"algo":"CRPO","it":1070,"m":0.0357,"lo":0.0327,"hi":0.0387},{"algo":"CRPO","it":1140,"m":0.0359,"lo":0.0329,"hi":0.0389},{"algo":"CRPO","it":1210,"m":0.0362,"lo":0.0332,"hi":0.0392},{"algo":"CRPO","it":1280,"m":0.0366,"lo":0.0336,"hi":0.0396},{"algo":"CRPO","it":1350,"m":0.0369,"lo":0.0339,"hi":0.0399},{"algo":"CRPO","it":1420,"m":0.0374,"lo":0.0344,"hi":0.0404},{"algo":"CRPO","it":1490,"m":0.0372,"lo":0.0342,"hi":0.0402},{"algo":"CRPO","it":1560,"m":0.0371,"lo":0.0341,"hi":0.0401},{"algo":"CRPO","it":1630,"m":0.0373,"lo":0.0343,"hi":0.0403},{"algo":"CRPO","it":1700,"m":0.0376,"lo":0.0346,"hi":0.0406},{"algo":"CRPO","it":1770,"m":0.0374,"lo":0.0344,"hi":0.0404},{"algo":"CRPO","it":1840,"m":0.0379,"lo":0.0349,"hi":0.0409},{"algo":"CRPO","it":1910,"m":0.0381,"lo":0.0351,"hi":0.0411},{"algo":"CRPO","it":1980,"m":0.0378,"lo":0.0348,"hi":0.0408},{"algo":"CRPO","it":2050,"m":0.038,"lo":0.035,"hi":0.041},{"algo":"CRPO","it":2120,"m":0.0383,"lo":0.0353,"hi":0.0413},{"algo":"CRPO","it":2190,"m":0.0386,"lo":0.0356,"hi":0.0416},{"algo":"CRPO","it":2260,"m":0.0384,"lo":0.0354,"hi":0.0414},{"algo":"CRPO","it":2330,"m":0.0389,"lo":0.0359,"hi":0.0419},{"algo":"CRPO","it":2400,"m":0.0382,"lo":0.0352,"hi":0.0412},{"algo":"CRPO","it":2470,"m":0.0385,"lo":0.0355,"hi":0.0415},{"algo":"CRPO","it":2500,"m":0.0384,"lo":0.0354,"hi":0.0414}
    ],
    "length": [
      {"algo":"ECO","it":0,"m":0,"lo":-0.005,"hi":0.005},{"algo":"ECO","it":40,"m":0.02,"lo":0.01,"hi":0.03},{"algo":"ECO","it":70,"m":0.06,"lo":0.03,"hi":0.09},{"algo":"ECO","it":90,"m":0.14,"lo":0.08,"hi":0.2},{"algo":"ECO","it":110,"m":0.45,"lo":0.35,"hi":0.55},{"algo":"ECO","it":130,"m":0.72,"lo":0.62,"hi":0.82},{"algo":"ECO","it":150,"m":0.76,"lo":0.67,"hi":0.85},{"algo":"ECO","it":180,"m":0.78,"lo":0.7,"hi":0.86},{"algo":"ECO","it":220,"m":0.82,"lo":0.75,"hi":0.89},{"algo":"ECO","it":260,"m":0.85,"lo":0.78,"hi":0.91},{"algo":"ECO","it":300,"m":0.86,"lo":0.8,"hi":0.92},{"algo":"ECO","it":370,"m":0.89,"lo":0.84,"hi":0.94},{"algo":"ECO","it":440,"m":0.912,"lo":0.865,"hi":0.955},{"algo":"ECO","it":510,"m":0.93,"lo":0.89,"hi":0.965},{"algo":"ECO","it":580,"m":0.945,"lo":0.91,"hi":0.975},{"algo":"ECO","it":650,"m":0.95,"lo":0.92,"hi":0.978},{"algo":"ECO","it":720,"m":0.952,"lo":0.925,"hi":0.978},{"algo":"ECO","it":790,"m":0.96,"lo":0.935,"hi":0.982},{"algo":"ECO","it":860,"m":0.962,"lo":0.94,"hi":0.983},{"algo":"ECO","it":930,"m":0.958,"lo":0.936,"hi":0.98},{"algo":"ECO","it":1000,"m":0.958,"lo":0.936,"hi":0.98},{"algo":"ECO","it":1070,"m":0.962,"lo":0.94,"hi":0.983},{"algo":"ECO","it":1140,"m":0.96,"lo":0.938,"hi":0.982},{"algo":"ECO","it":1210,"m":0.958,"lo":0.936,"hi":0.98},{"algo":"ECO","it":1280,"m":0.966,"lo":0.945,"hi":0.986},{"algo":"ECO","it":1350,"m":0.968,"lo":0.947,"hi":0.988},{"algo":"ECO","it":1420,"m":0.962,"lo":0.94,"hi":0.983},{"algo":"ECO","it":1490,"m":0.963,"lo":0.942,"hi":0.984},{"algo":"ECO","it":1560,"m":0.96,"lo":0.94,"hi":0.981},{"algo":"ECO","it":1630,"m":0.958,"lo":0.937,"hi":0.979},{"algo":"ECO","it":1700,"m":0.962,"lo":0.941,"hi":0.983},{"algo":"ECO","it":1770,"m":0.958,"lo":0.937,"hi":0.979},{"algo":"ECO","it":1840,"m":0.96,"lo":0.94,"hi":0.981},{"algo":"ECO","it":1910,"m":0.962,"lo":0.941,"hi":0.983},{"algo":"ECO","it":1980,"m":0.965,"lo":0.944,"hi":0.985},{"algo":"ECO","it":2050,"m":0.962,"lo":0.941,"hi":0.983},{"algo":"ECO","it":2120,"m":0.96,"lo":0.94,"hi":0.981},{"algo":"ECO","it":2190,"m":0.958,"lo":0.937,"hi":0.979},{"algo":"ECO","it":2260,"m":0.963,"lo":0.942,"hi":0.984},{"algo":"ECO","it":2330,"m":0.966,"lo":0.945,"hi":0.986},{"algo":"ECO","it":2400,"m":0.964,"lo":0.943,"hi":0.985},{"algo":"ECO","it":2470,"m":0.965,"lo":0.944,"hi":0.985},{"algo":"ECO","it":2500,"m":0.963,"lo":0.942,"hi":0.984},
      {"algo":"P3O","it":0,"m":0,"lo":-0.005,"hi":0.005},{"algo":"P3O","it":40,"m":0.01,"lo":0,"hi":0.02},{"algo":"P3O","it":70,"m":0.03,"lo":0.01,"hi":0.05},{"algo":"P3O","it":90,"m":0.08,"lo":0.04,"hi":0.12},{"algo":"P3O","it":110,"m":0.25,"lo":0.15,"hi":0.35},{"algo":"P3O","it":130,"m":0.55,"lo":0.42,"hi":0.68},{"algo":"P3O","it":150,"m":0.7,"lo":0.57,"hi":0.83},{"algo":"P3O","it":180,"m":0.75,"lo":0.63,"hi":0.88},{"algo":"P3O","it":220,"m":0.785,"lo":0.68,"hi":0.9},{"algo":"P3O","it":260,"m":0.78,"lo":0.67,"hi":0.89},{"algo":"P3O","it":300,"m":0.75,"lo":0.64,"hi":0.86},{"algo":"P3O","it":370,"m":0.727,"lo":0.62,"hi":0.84},{"algo":"P3O","it":440,"m":0.752,"lo":0.645,"hi":0.86},{"algo":"P3O","it":510,"m":0.762,"lo":0.655,"hi":0.87},{"algo":"P3O","it":580,"m":0.775,"lo":0.67,"hi":0.88},{"algo":"P3O","it":650,"m":0.785,"lo":0.68,"hi":0.89},{"algo":"P3O","it":720,"m":0.8,"lo":0.7,"hi":0.9},{"algo":"P3O","it":790,"m":0.803,"lo":0.703,"hi":0.903},{"algo":"P3O","it":860,"m":0.82,"lo":0.72,"hi":0.915},{"algo":"P3O","it":930,"m":0.82,"lo":0.72,"hi":0.915},{"algo":"P3O","it":1000,"m":0.822,"lo":0.722,"hi":0.915},{"algo":"P3O","it":1070,"m":0.84,"lo":0.745,"hi":0.93},{"algo":"P3O","it":1140,"m":0.847,"lo":0.752,"hi":0.935},{"algo":"P3O","it":1210,"m":0.842,"lo":0.747,"hi":0.93},{"algo":"P3O","it":1280,"m":0.84,"lo":0.745,"hi":0.93},{"algo":"P3O","it":1350,"m":0.85,"lo":0.757,"hi":0.94},{"algo":"P3O","it":1420,"m":0.855,"lo":0.765,"hi":0.94},{"algo":"P3O","it":1490,"m":0.84,"lo":0.75,"hi":0.93},{"algo":"P3O","it":1560,"m":0.852,"lo":0.762,"hi":0.94},{"algo":"P3O","it":1630,"m":0.86,"lo":0.77,"hi":0.945},{"algo":"P3O","it":1700,"m":0.865,"lo":0.775,"hi":0.95},{"algo":"P3O","it":1770,"m":0.875,"lo":0.785,"hi":0.96},{"algo":"P3O","it":1840,"m":0.882,"lo":0.795,"hi":0.965},{"algo":"P3O","it":1910,"m":0.885,"lo":0.8,"hi":0.967},{"algo":"P3O","it":1980,"m":0.889,"lo":0.805,"hi":0.97},{"algo":"P3O","it":2050,"m":0.887,"lo":0.803,"hi":0.968},{"algo":"P3O","it":2120,"m":0.896,"lo":0.813,"hi":0.975},{"algo":"P3O","it":2190,"m":0.893,"lo":0.81,"hi":0.973},{"algo":"P3O","it":2260,"m":0.905,"lo":0.823,"hi":0.982},{"algo":"P3O","it":2330,"m":0.915,"lo":0.833,"hi":0.99},{"algo":"P3O","it":2400,"m":0.91,"lo":0.83,"hi":0.985},{"algo":"P3O","it":2470,"m":0.905,"lo":0.825,"hi":0.982},{"algo":"P3O","it":2500,"m":0.903,"lo":0.823,"hi":0.98},
      {"algo":"IPO1","it":0,"m":0,"lo":-0.005,"hi":0.005},{"algo":"IPO1","it":40,"m":0.01,"lo":0,"hi":0.02},{"algo":"IPO1","it":70,"m":0.04,"lo":0.02,"hi":0.06},{"algo":"IPO1","it":90,"m":0.1,"lo":0.05,"hi":0.15},{"algo":"IPO1","it":110,"m":0.35,"lo":0.25,"hi":0.45},{"algo":"IPO1","it":130,"m":0.6,"lo":0.5,"hi":0.7},{"algo":"IPO1","it":150,"m":0.7,"lo":0.6,"hi":0.8},{"algo":"IPO1","it":180,"m":0.74,"lo":0.65,"hi":0.83},{"algo":"IPO1","it":220,"m":0.78,"lo":0.7,"hi":0.86},{"algo":"IPO1","it":260,"m":0.8,"lo":0.72,"hi":0.88},{"algo":"IPO1","it":300,"m":0.82,"lo":0.74,"hi":0.895},{"algo":"IPO1","it":370,"m":0.85,"lo":0.78,"hi":0.915},{"algo":"IPO1","it":440,"m":0.875,"lo":0.81,"hi":0.935},{"algo":"IPO1","it":510,"m":0.89,"lo":0.83,"hi":0.945},{"algo":"IPO1","it":580,"m":0.905,"lo":0.85,"hi":0.955},{"algo":"IPO1","it":650,"m":0.913,"lo":0.86,"hi":0.96},{"algo":"IPO1","it":720,"m":0.92,"lo":0.87,"hi":0.965},{"algo":"IPO1","it":790,"m":0.925,"lo":0.875,"hi":0.968},{"algo":"IPO1","it":860,"m":0.93,"lo":0.885,"hi":0.972},{"algo":"IPO1","it":930,"m":0.935,"lo":0.89,"hi":0.975},{"algo":"IPO1","it":1000,"m":0.94,"lo":0.9,"hi":0.977},{"algo":"IPO1","it":1070,"m":0.942,"lo":0.903,"hi":0.978},{"algo":"IPO1","it":1140,"m":0.945,"lo":0.907,"hi":0.98},{"algo":"IPO1","it":1210,"m":0.948,"lo":0.91,"hi":0.982},{"algo":"IPO1","it":1280,"m":0.95,"lo":0.913,"hi":0.984},{"algo":"IPO1","it":1350,"m":0.952,"lo":0.915,"hi":0.985},{"algo":"IPO1","it":1420,"m":0.955,"lo":0.918,"hi":0.987},{"algo":"IPO1","it":1490,"m":0.955,"lo":0.918,"hi":0.987},{"algo":"IPO1","it":1560,"m":0.957,"lo":0.92,"hi":0.988},{"algo":"IPO1","it":1630,"m":0.958,"lo":0.921,"hi":0.989},{"algo":"IPO1","it":1700,"m":0.96,"lo":0.923,"hi":0.99},{"algo":"IPO1","it":1770,"m":0.962,"lo":0.925,"hi":0.991},{"algo":"IPO1","it":1840,"m":0.963,"lo":0.926,"hi":0.992},{"algo":"IPO1","it":1910,"m":0.965,"lo":0.928,"hi":0.993},{"algo":"IPO1","it":1980,"m":0.966,"lo":0.93,"hi":0.994},{"algo":"IPO1","it":2050,"m":0.967,"lo":0.931,"hi":0.995},{"algo":"IPO1","it":2120,"m":0.968,"lo":0.932,"hi":0.996},{"algo":"IPO1","it":2190,"m":0.968,"lo":0.932,"hi":0.996},{"algo":"IPO1","it":2260,"m":0.969,"lo":0.933,"hi":0.997},{"algo":"IPO1","it":2330,"m":0.97,"lo":0.934,"hi":0.998},{"algo":"IPO1","it":2400,"m":0.971,"lo":0.935,"hi":0.999},{"algo":"IPO1","it":2470,"m":0.971,"lo":0.935,"hi":0.999},{"algo":"IPO1","it":2500,"m":0.972,"lo":0.936,"hi":1.0},
      {"algo":"IPO10","it":0,"m":0,"lo":-0.005,"hi":0.005},{"algo":"IPO10","it":40,"m":0.01,"lo":0,"hi":0.02},{"algo":"IPO10","it":70,"m":0.035,"lo":0.015,"hi":0.055},{"algo":"IPO10","it":90,"m":0.08,"lo":0.04,"hi":0.12},{"algo":"IPO10","it":110,"m":0.3,"lo":0.2,"hi":0.4},{"algo":"IPO10","it":130,"m":0.6,"lo":0.48,"hi":0.72},{"algo":"IPO10","it":150,"m":0.72,"lo":0.6,"hi":0.84},{"algo":"IPO10","it":180,"m":0.7,"lo":0.6,"hi":0.8},{"algo":"IPO10","it":220,"m":0.7,"lo":0.61,"hi":0.79},{"algo":"IPO10","it":260,"m":0.73,"lo":0.64,"hi":0.82},{"algo":"IPO10","it":300,"m":0.75,"lo":0.66,"hi":0.84},{"algo":"IPO10","it":370,"m":0.78,"lo":0.69,"hi":0.87},{"algo":"IPO10","it":440,"m":0.81,"lo":0.72,"hi":0.9},{"algo":"IPO10","it":510,"m":0.83,"lo":0.74,"hi":0.92},{"algo":"IPO10","it":580,"m":0.85,"lo":0.76,"hi":0.94},{"algo":"IPO10","it":650,"m":0.865,"lo":0.775,"hi":0.955},{"algo":"IPO10","it":720,"m":0.87,"lo":0.78,"hi":0.96},{"algo":"IPO10","it":790,"m":0.875,"lo":0.785,"hi":0.965},{"algo":"IPO10","it":860,"m":0.87,"lo":0.775,"hi":0.965},{"algo":"IPO10","it":930,"m":0.875,"lo":0.78,"hi":0.97},{"algo":"IPO10","it":1000,"m":0.88,"lo":0.785,"hi":0.975},{"algo":"IPO10","it":1070,"m":0.885,"lo":0.79,"hi":0.98},{"algo":"IPO10","it":1140,"m":0.885,"lo":0.79,"hi":0.98},{"algo":"IPO10","it":1210,"m":0.89,"lo":0.79,"hi":0.99},{"algo":"IPO10","it":1280,"m":0.888,"lo":0.785,"hi":0.99},{"algo":"IPO10","it":1350,"m":0.895,"lo":0.79,"hi":1.0},{"algo":"IPO10","it":1420,"m":0.9,"lo":0.795,"hi":1.005},{"algo":"IPO10","it":1490,"m":0.905,"lo":0.8,"hi":1.01},{"algo":"IPO10","it":1560,"m":0.9,"lo":0.795,"hi":1.005},{"algo":"IPO10","it":1630,"m":0.895,"lo":0.79,"hi":1.0},{"algo":"IPO10","it":1700,"m":0.9,"lo":0.795,"hi":1.005},{"algo":"IPO10","it":1770,"m":0.895,"lo":0.79,"hi":1.0},{"algo":"IPO10","it":1840,"m":0.91,"lo":0.8,"hi":1.02},{"algo":"IPO10","it":1910,"m":0.905,"lo":0.795,"hi":1.015},{"algo":"IPO10","it":1980,"m":0.91,"lo":0.8,"hi":1.02},{"algo":"IPO10","it":2050,"m":0.91,"lo":0.8,"hi":1.02},{"algo":"IPO10","it":2120,"m":0.915,"lo":0.8,"hi":1.03},{"algo":"IPO10","it":2190,"m":0.925,"lo":0.81,"hi":1.04},{"algo":"IPO10","it":2260,"m":0.93,"lo":0.815,"hi":1.045},{"algo":"IPO10","it":2330,"m":0.935,"lo":0.82,"hi":1.05},{"algo":"IPO10","it":2400,"m":0.92,"lo":0.805,"hi":1.035},{"algo":"IPO10","it":2470,"m":0.925,"lo":0.81,"hi":1.04},{"algo":"IPO10","it":2500,"m":0.92,"lo":0.805,"hi":1.035},
      {"algo":"CRPO","it":0,"m":0,"lo":-0.005,"hi":0.005},{"algo":"CRPO","it":40,"m":0.01,"lo":0,"hi":0.02},{"algo":"CRPO","it":70,"m":0.03,"lo":0.01,"hi":0.05},{"algo":"CRPO","it":90,"m":0.06,"lo":0.03,"hi":0.09},{"algo":"CRPO","it":110,"m":0.12,"lo":0.08,"hi":0.17},{"algo":"CRPO","it":130,"m":0.14,"lo":0.09,"hi":0.2},{"algo":"CRPO","it":150,"m":0.26,"lo":0.18,"hi":0.35},{"algo":"CRPO","it":180,"m":0.33,"lo":0.23,"hi":0.43},{"algo":"CRPO","it":220,"m":0.55,"lo":0.4,"hi":0.66},{"algo":"CRPO","it":260,"m":0.6,"lo":0.46,"hi":0.7},{"algo":"CRPO","it":300,"m":0.61,"lo":0.47,"hi":0.71},{"algo":"CRPO","it":370,"m":0.633,"lo":0.5,"hi":0.72},{"algo":"CRPO","it":440,"m":0.61,"lo":0.48,"hi":0.7},{"algo":"CRPO","it":510,"m":0.6,"lo":0.47,"hi":0.7},{"algo":"CRPO","it":580,"m":0.64,"lo":0.5,"hi":0.74},{"algo":"CRPO","it":650,"m":0.61,"lo":0.47,"hi":0.71},{"algo":"CRPO","it":720,"m":0.665,"lo":0.52,"hi":0.76},{"algo":"CRPO","it":790,"m":0.64,"lo":0.5,"hi":0.74},{"algo":"CRPO","it":860,"m":0.66,"lo":0.52,"hi":0.76},{"algo":"CRPO","it":930,"m":0.675,"lo":0.54,"hi":0.78},{"algo":"CRPO","it":1000,"m":0.68,"lo":0.54,"hi":0.79},{"algo":"CRPO","it":1070,"m":0.69,"lo":0.55,"hi":0.8},{"algo":"CRPO","it":1140,"m":0.667,"lo":0.53,"hi":0.78},{"algo":"CRPO","it":1210,"m":0.7,"lo":0.56,"hi":0.81},{"algo":"CRPO","it":1280,"m":0.72,"lo":0.58,"hi":0.83},{"algo":"CRPO","it":1350,"m":0.715,"lo":0.57,"hi":0.83},{"algo":"CRPO","it":1420,"m":0.744,"lo":0.6,"hi":0.85},{"algo":"CRPO","it":1490,"m":0.695,"lo":0.55,"hi":0.81},{"algo":"CRPO","it":1560,"m":0.735,"lo":0.58,"hi":0.85},{"algo":"CRPO","it":1630,"m":0.68,"lo":0.52,"hi":0.8},{"algo":"CRPO","it":1700,"m":0.69,"lo":0.52,"hi":0.82},{"algo":"CRPO","it":1770,"m":0.62,"lo":0.45,"hi":0.76},{"algo":"CRPO","it":1840,"m":0.72,"lo":0.55,"hi":0.85},{"algo":"CRPO","it":1910,"m":0.647,"lo":0.47,"hi":0.79},{"algo":"CRPO","it":1980,"m":0.745,"lo":0.58,"hi":0.87},{"algo":"CRPO","it":2050,"m":0.69,"lo":0.52,"hi":0.83},{"algo":"CRPO","it":2120,"m":0.675,"lo":0.5,"hi":0.81},{"algo":"CRPO","it":2190,"m":0.59,"lo":0.41,"hi":0.74},{"algo":"CRPO","it":2260,"m":0.7,"lo":0.52,"hi":0.84},{"algo":"CRPO","it":2330,"m":0.63,"lo":0.45,"hi":0.78},{"algo":"CRPO","it":2400,"m":0.665,"lo":0.48,"hi":0.81},{"algo":"CRPO","it":2470,"m":0.635,"lo":0.46,"hi":0.79},{"algo":"CRPO","it":2500,"m":0.605,"lo":0.44,"hi":0.77}
    ],
    "reward": [
      {"algo":"ECO","it":0,"m":0,"lo":-0.005,"hi":0.005},{"algo":"ECO","it":40,"m":0.005,"lo":0,"hi":0.01},{"algo":"ECO","it":70,"m":0.03,"lo":0.015,"hi":0.045},{"algo":"ECO","it":90,"m":0.08,"lo":0.05,"hi":0.11},{"algo":"ECO","it":110,"m":0.19,"lo":0.14,"hi":0.24},{"algo":"ECO","it":130,"m":0.3,"lo":0.24,"hi":0.36},{"algo":"ECO","it":150,"m":0.4,"lo":0.33,"hi":0.47},{"algo":"ECO","it":180,"m":0.49,"lo":0.42,"hi":0.56},{"algo":"ECO","it":220,"m":0.565,"lo":0.5,"hi":0.63},{"algo":"ECO","it":260,"m":0.62,"lo":0.56,"hi":0.68},{"algo":"ECO","it":300,"m":0.655,"lo":0.6,"hi":0.71},{"algo":"ECO","it":370,"m":0.72,"lo":0.67,"hi":0.77},{"algo":"ECO","it":440,"m":0.76,"lo":0.715,"hi":0.805},{"algo":"ECO","it":510,"m":0.81,"lo":0.765,"hi":0.85},{"algo":"ECO","it":580,"m":0.825,"lo":0.785,"hi":0.865},{"algo":"ECO","it":650,"m":0.855,"lo":0.815,"hi":0.89},{"algo":"ECO","it":720,"m":0.863,"lo":0.825,"hi":0.9},{"algo":"ECO","it":790,"m":0.874,"lo":0.835,"hi":0.91},{"algo":"ECO","it":860,"m":0.88,"lo":0.842,"hi":0.915},{"algo":"ECO","it":930,"m":0.886,"lo":0.848,"hi":0.92},{"algo":"ECO","it":1000,"m":0.89,"lo":0.852,"hi":0.925},{"algo":"ECO","it":1070,"m":0.892,"lo":0.855,"hi":0.927},{"algo":"ECO","it":1140,"m":0.895,"lo":0.858,"hi":0.93},{"algo":"ECO","it":1210,"m":0.897,"lo":0.86,"hi":0.932},{"algo":"ECO","it":1280,"m":0.9,"lo":0.863,"hi":0.935},{"algo":"ECO","it":1350,"m":0.905,"lo":0.868,"hi":0.94},{"algo":"ECO","it":1420,"m":0.902,"lo":0.865,"hi":0.937},{"algo":"ECO","it":1490,"m":0.898,"lo":0.861,"hi":0.933},{"algo":"ECO","it":1560,"m":0.9,"lo":0.863,"hi":0.935},{"algo":"ECO","it":1630,"m":0.897,"lo":0.86,"hi":0.932},{"algo":"ECO","it":1700,"m":0.896,"lo":0.859,"hi":0.931},{"algo":"ECO","it":1770,"m":0.9,"lo":0.863,"hi":0.935},{"algo":"ECO","it":1840,"m":0.896,"lo":0.859,"hi":0.931},{"algo":"ECO","it":1910,"m":0.898,"lo":0.861,"hi":0.933},{"algo":"ECO","it":1980,"m":0.9,"lo":0.863,"hi":0.935},{"algo":"ECO","it":2050,"m":0.897,"lo":0.86,"hi":0.932},{"algo":"ECO","it":2120,"m":0.902,"lo":0.865,"hi":0.937},{"algo":"ECO","it":2190,"m":0.905,"lo":0.868,"hi":0.94},{"algo":"ECO","it":2260,"m":0.904,"lo":0.867,"hi":0.939},{"algo":"ECO","it":2330,"m":0.908,"lo":0.871,"hi":0.943},{"algo":"ECO","it":2400,"m":0.907,"lo":0.87,"hi":0.942},{"algo":"ECO","it":2470,"m":0.906,"lo":0.869,"hi":0.941},{"algo":"ECO","it":2500,"m":0.907,"lo":0.87,"hi":0.942},
      {"algo":"P3O","it":0,"m":0,"lo":-0.005,"hi":0.005},{"algo":"P3O","it":40,"m":0.003,"lo":-0.002,"hi":0.008},{"algo":"P3O","it":70,"m":0.02,"lo":0.005,"hi":0.035},{"algo":"P3O","it":90,"m":0.06,"lo":0.03,"hi":0.09},{"algo":"P3O","it":110,"m":0.1,"lo":0.06,"hi":0.14},{"algo":"P3O","it":130,"m":0.24,"lo":0.17,"hi":0.31},{"algo":"P3O","it":150,"m":0.36,"lo":0.28,"hi":0.44},{"algo":"P3O","it":180,"m":0.45,"lo":0.36,"hi":0.54},{"algo":"P3O","it":220,"m":0.5,"lo":0.41,"hi":0.59},{"algo":"P3O","it":260,"m":0.5,"lo":0.41,"hi":0.6},{"algo":"P3O","it":300,"m":0.5,"lo":0.41,"hi":0.6},{"algo":"P3O","it":370,"m":0.525,"lo":0.43,"hi":0.62},{"algo":"P3O","it":440,"m":0.575,"lo":0.48,"hi":0.67},{"algo":"P3O","it":510,"m":0.6,"lo":0.5,"hi":0.7},{"algo":"P3O","it":580,"m":0.62,"lo":0.52,"hi":0.72},{"algo":"P3O","it":650,"m":0.645,"lo":0.545,"hi":0.745},{"algo":"P3O","it":720,"m":0.67,"lo":0.57,"hi":0.77},{"algo":"P3O","it":790,"m":0.683,"lo":0.583,"hi":0.783},{"algo":"P3O","it":860,"m":0.695,"lo":0.595,"hi":0.795},{"algo":"P3O","it":930,"m":0.71,"lo":0.61,"hi":0.81},{"algo":"P3O","it":1000,"m":0.708,"lo":0.608,"hi":0.808},{"algo":"P3O","it":1070,"m":0.72,"lo":0.62,"hi":0.82},{"algo":"P3O","it":1140,"m":0.735,"lo":0.635,"hi":0.835},{"algo":"P3O","it":1210,"m":0.74,"lo":0.64,"hi":0.84},{"algo":"P3O","it":1280,"m":0.735,"lo":0.635,"hi":0.835},{"algo":"P3O","it":1350,"m":0.745,"lo":0.645,"hi":0.845},{"algo":"P3O","it":1420,"m":0.74,"lo":0.64,"hi":0.84},{"algo":"P3O","it":1490,"m":0.755,"lo":0.655,"hi":0.855},{"algo":"P3O","it":1560,"m":0.762,"lo":0.665,"hi":0.86},{"algo":"P3O","it":1630,"m":0.768,"lo":0.67,"hi":0.866},{"algo":"P3O","it":1700,"m":0.776,"lo":0.68,"hi":0.872},{"algo":"P3O","it":1770,"m":0.787,"lo":0.69,"hi":0.884},{"algo":"P3O","it":1840,"m":0.79,"lo":0.695,"hi":0.885},{"algo":"P3O","it":1910,"m":0.793,"lo":0.7,"hi":0.886},{"algo":"P3O","it":1980,"m":0.8,"lo":0.705,"hi":0.895},{"algo":"P3O","it":2050,"m":0.808,"lo":0.715,"hi":0.9},{"algo":"P3O","it":2120,"m":0.813,"lo":0.72,"hi":0.905},{"algo":"P3O","it":2190,"m":0.82,"lo":0.725,"hi":0.912},{"algo":"P3O","it":2260,"m":0.823,"lo":0.73,"hi":0.915},{"algo":"P3O","it":2330,"m":0.82,"lo":0.725,"hi":0.915},{"algo":"P3O","it":2400,"m":0.832,"lo":0.74,"hi":0.925},{"algo":"P3O","it":2470,"m":0.827,"lo":0.735,"hi":0.92},{"algo":"P3O","it":2500,"m":0.827,"lo":0.735,"hi":0.92},
      {"algo":"IPO1","it":0,"m":0,"lo":-0.005,"hi":0.005},{"algo":"IPO1","it":40,"m":0.004,"lo":0,"hi":0.009},{"algo":"IPO1","it":70,"m":0.025,"lo":0.01,"hi":0.04},{"algo":"IPO1","it":90,"m":0.07,"lo":0.04,"hi":0.1},{"algo":"IPO1","it":110,"m":0.15,"lo":0.1,"hi":0.2},{"algo":"IPO1","it":130,"m":0.27,"lo":0.2,"hi":0.34},{"algo":"IPO1","it":150,"m":0.36,"lo":0.29,"hi":0.43},{"algo":"IPO1","it":180,"m":0.45,"lo":0.38,"hi":0.52},{"algo":"IPO1","it":220,"m":0.52,"lo":0.45,"hi":0.6},{"algo":"IPO1","it":260,"m":0.57,"lo":0.5,"hi":0.65},{"algo":"IPO1","it":300,"m":0.6,"lo":0.53,"hi":0.68},{"algo":"IPO1","it":370,"m":0.67,"lo":0.6,"hi":0.745},{"algo":"IPO1","it":440,"m":0.73,"lo":0.665,"hi":0.8},{"algo":"IPO1","it":510,"m":0.77,"lo":0.71,"hi":0.835},{"algo":"IPO1","it":580,"m":0.8,"lo":0.745,"hi":0.86},{"algo":"IPO1","it":650,"m":0.82,"lo":0.765,"hi":0.875},{"algo":"IPO1","it":720,"m":0.84,"lo":0.79,"hi":0.89},{"algo":"IPO1","it":790,"m":0.85,"lo":0.8,"hi":0.898},{"algo":"IPO1","it":860,"m":0.86,"lo":0.815,"hi":0.905},{"algo":"IPO1","it":930,"m":0.868,"lo":0.823,"hi":0.912},{"algo":"IPO1","it":1000,"m":0.875,"lo":0.83,"hi":0.918},{"algo":"IPO1","it":1070,"m":0.879,"lo":0.835,"hi":0.922},{"algo":"IPO1","it":1140,"m":0.884,"lo":0.84,"hi":0.926},{"algo":"IPO1","it":1210,"m":0.888,"lo":0.845,"hi":0.93},{"algo":"IPO1","it":1280,"m":0.891,"lo":0.848,"hi":0.933},{"algo":"IPO1","it":1350,"m":0.895,"lo":0.852,"hi":0.937},{"algo":"IPO1","it":1420,"m":0.897,"lo":0.855,"hi":0.939},{"algo":"IPO1","it":1490,"m":0.9,"lo":0.858,"hi":0.942},{"algo":"IPO1","it":1560,"m":0.902,"lo":0.86,"hi":0.944},{"algo":"IPO1","it":1630,"m":0.904,"lo":0.862,"hi":0.946},{"algo":"IPO1","it":1700,"m":0.905,"lo":0.864,"hi":0.947},{"algo":"IPO1","it":1770,"m":0.907,"lo":0.866,"hi":0.948},{"algo":"IPO1","it":1840,"m":0.908,"lo":0.867,"hi":0.949},{"algo":"IPO1","it":1910,"m":0.91,"lo":0.869,"hi":0.951},{"algo":"IPO1","it":1980,"m":0.911,"lo":0.87,"hi":0.952},{"algo":"IPO1","it":2050,"m":0.912,"lo":0.871,"hi":0.953},{"algo":"IPO1","it":2120,"m":0.914,"lo":0.873,"hi":0.955},{"algo":"IPO1","it":2190,"m":0.915,"lo":0.874,"hi":0.956},{"algo":"IPO1","it":2260,"m":0.917,"lo":0.876,"hi":0.958},{"algo":"IPO1","it":2330,"m":0.918,"lo":0.877,"hi":0.959},{"algo":"IPO1","it":2400,"m":0.919,"lo":0.878,"hi":0.96},{"algo":"IPO1","it":2470,"m":0.92,"lo":0.879,"hi":0.961},{"algo":"IPO1","it":2500,"m":0.92,"lo":0.879,"hi":0.961},
      {"algo":"IPO10","it":0,"m":0,"lo":-0.005,"hi":0.005},{"algo":"IPO10","it":40,"m":0.003,"lo":-0.002,"hi":0.008},{"algo":"IPO10","it":70,"m":0.02,"lo":0.005,"hi":0.035},{"algo":"IPO10","it":90,"m":0.06,"lo":0.03,"hi":0.09},{"algo":"IPO10","it":110,"m":0.12,"lo":0.07,"hi":0.17},{"algo":"IPO10","it":130,"m":0.25,"lo":0.18,"hi":0.32},{"algo":"IPO10","it":150,"m":0.34,"lo":0.26,"hi":0.42},{"algo":"IPO10","it":180,"m":0.42,"lo":0.34,"hi":0.5},{"algo":"IPO10","it":220,"m":0.45,"lo":0.37,"hi":0.54},{"algo":"IPO10","it":260,"m":0.47,"lo":0.38,"hi":0.56},{"algo":"IPO10","it":300,"m":0.5,"lo":0.4,"hi":0.6},{"algo":"IPO10","it":370,"m":0.62,"lo":0.52,"hi":0.72},{"algo":"IPO10","it":440,"m":0.7,"lo":0.6,"hi":0.8},{"algo":"IPO10","it":510,"m":0.725,"lo":0.625,"hi":0.825},{"algo":"IPO10","it":580,"m":0.745,"lo":0.645,"hi":0.845},{"algo":"IPO10","it":650,"m":0.78,"lo":0.68,"hi":0.88},{"algo":"IPO10","it":720,"m":0.782,"lo":0.682,"hi":0.882},{"algo":"IPO10","it":790,"m":0.795,"lo":0.695,"hi":0.895},{"algo":"IPO10","it":860,"m":0.81,"lo":0.71,"hi":0.91},{"algo":"IPO10","it":930,"m":0.82,"lo":0.72,"hi":0.92},{"algo":"IPO10","it":1000,"m":0.828,"lo":0.728,"hi":0.928},{"algo":"IPO10","it":1070,"m":0.836,"lo":0.736,"hi":0.936},{"algo":"IPO10","it":1140,"m":0.832,"lo":0.732,"hi":0.935},{"algo":"IPO10","it":1210,"m":0.838,"lo":0.735,"hi":0.94},{"algo":"IPO10","it":1280,"m":0.845,"lo":0.74,"hi":0.95},{"algo":"IPO10","it":1350,"m":0.84,"lo":0.735,"hi":0.945},{"algo":"IPO10","it":1420,"m":0.85,"lo":0.745,"hi":0.955},{"algo":"IPO10","it":1490,"m":0.852,"lo":0.745,"hi":0.96},{"algo":"IPO10","it":1560,"m":0.855,"lo":0.748,"hi":0.962},{"algo":"IPO10","it":1630,"m":0.86,"lo":0.75,"hi":0.97},{"algo":"IPO10","it":1700,"m":0.863,"lo":0.753,"hi":0.973},{"algo":"IPO10","it":1770,"m":0.858,"lo":0.745,"hi":0.97},{"algo":"IPO10","it":1840,"m":0.85,"lo":0.738,"hi":0.962},{"algo":"IPO10","it":1910,"m":0.858,"lo":0.745,"hi":0.97},{"algo":"IPO10","it":1980,"m":0.863,"lo":0.75,"hi":0.976},{"algo":"IPO10","it":2050,"m":0.855,"lo":0.74,"hi":0.97},{"algo":"IPO10","it":2120,"m":0.862,"lo":0.745,"hi":0.98},{"algo":"IPO10","it":2190,"m":0.87,"lo":0.75,"hi":0.99},{"algo":"IPO10","it":2260,"m":0.883,"lo":0.76,"hi":1.005},{"algo":"IPO10","it":2330,"m":0.868,"lo":0.745,"hi":0.99},{"algo":"IPO10","it":2400,"m":0.872,"lo":0.748,"hi":0.995},{"algo":"IPO10","it":2470,"m":0.868,"lo":0.745,"hi":0.99},{"algo":"IPO10","it":2500,"m":0.87,"lo":0.745,"hi":0.995},
      {"algo":"CRPO","it":0,"m":0,"lo":-0.005,"hi":0.005},{"algo":"CRPO","it":40,"m":0.003,"lo":-0.002,"hi":0.008},{"algo":"CRPO","it":70,"m":0.015,"lo":0.005,"hi":0.03},{"algo":"CRPO","it":90,"m":0.04,"lo":0.02,"hi":0.06},{"algo":"CRPO","it":110,"m":0.07,"lo":0.04,"hi":0.1},{"algo":"CRPO","it":130,"m":0.08,"lo":0.05,"hi":0.12},{"algo":"CRPO","it":150,"m":0.13,"lo":0.08,"hi":0.2},{"algo":"CRPO","it":180,"m":0.18,"lo":0.12,"hi":0.26},{"algo":"CRPO","it":220,"m":0.26,"lo":0.17,"hi":0.35},{"algo":"CRPO","it":260,"m":0.33,"lo":0.22,"hi":0.42},{"algo":"CRPO","it":300,"m":0.355,"lo":0.24,"hi":0.45},{"algo":"CRPO","it":370,"m":0.395,"lo":0.28,"hi":0.49},{"algo":"CRPO","it":440,"m":0.406,"lo":0.29,"hi":0.5},{"algo":"CRPO","it":510,"m":0.4,"lo":0.28,"hi":0.5},{"algo":"CRPO","it":580,"m":0.465,"lo":0.34,"hi":0.56},{"algo":"CRPO","it":650,"m":0.47,"lo":0.35,"hi":0.57},{"algo":"CRPO","it":720,"m":0.515,"lo":0.39,"hi":0.61},{"algo":"CRPO","it":790,"m":0.51,"lo":0.38,"hi":0.61},{"algo":"CRPO","it":860,"m":0.54,"lo":0.41,"hi":0.65},{"algo":"CRPO","it":930,"m":0.55,"lo":0.42,"hi":0.66},{"algo":"CRPO","it":1000,"m":0.56,"lo":0.42,"hi":0.67},{"algo":"CRPO","it":1070,"m":0.585,"lo":0.45,"hi":0.69},{"algo":"CRPO","it":1140,"m":0.574,"lo":0.43,"hi":0.68},{"algo":"CRPO","it":1210,"m":0.54,"lo":0.4,"hi":0.66},{"algo":"CRPO","it":1280,"m":0.605,"lo":0.46,"hi":0.71},{"algo":"CRPO","it":1350,"m":0.575,"lo":0.43,"hi":0.69},{"algo":"CRPO","it":1420,"m":0.617,"lo":0.47,"hi":0.73},{"algo":"CRPO","it":1490,"m":0.605,"lo":0.45,"hi":0.72},{"algo":"CRPO","it":1560,"m":0.64,"lo":0.48,"hi":0.76},{"algo":"CRPO","it":1630,"m":0.595,"lo":0.44,"hi":0.72},{"algo":"CRPO","it":1700,"m":0.58,"lo":0.42,"hi":0.71},{"algo":"CRPO","it":1770,"m":0.55,"lo":0.4,"hi":0.69},{"algo":"CRPO","it":1840,"m":0.62,"lo":0.46,"hi":0.76},{"algo":"CRPO","it":1910,"m":0.565,"lo":0.41,"hi":0.71},{"algo":"CRPO","it":1980,"m":0.645,"lo":0.48,"hi":0.78},{"algo":"CRPO","it":2050,"m":0.59,"lo":0.43,"hi":0.74},{"algo":"CRPO","it":2120,"m":0.56,"lo":0.38,"hi":0.71},{"algo":"CRPO","it":2190,"m":0.51,"lo":0.34,"hi":0.67},{"algo":"CRPO","it":2260,"m":0.58,"lo":0.41,"hi":0.74},{"algo":"CRPO","it":2330,"m":0.56,"lo":0.38,"hi":0.72},{"algo":"CRPO","it":2400,"m":0.535,"lo":0.36,"hi":0.7},{"algo":"CRPO","it":2470,"m":0.525,"lo":0.35,"hi":0.69},{"algo":"CRPO","it":2500,"m":0.51,"lo":0.35,"hi":0.68}
    ]
  },
  "vconcat": [
    {
      "title": {
        "text": [
          "parison of training metrics for ECO, P3O, IPO, and CRPO. The energy consumption and mirror reference motio",
          "J and 0.05, respectively, as indicated by the black dashed lines in (a) and (b). Results averaged over 10 random"
        ],
        "orient": "bottom", "anchor": "start", "frame": "group", "dx": -134.5, "offset": 18,
        "font": "Liberation Serif", "fontSize": 26, "fontWeight": "normal", "lineHeight": 28, "color": "#111"
      },
      "columns": 2,
      "bounds": "flush",
      "spacing": {"row": 74, "column": 54.5},
      "resolve": {"legend": {"color": "independent"}},
      "concat": [
        {
          "width": 482, "height": 286,
          "data": {"name": "energy"},
          "title": {"text": "(a) Mean Energy Cost", "dx": -21, "offset": 15},
          "layer": [
            {
              "mark": {"type": "area", "opacity": 0.27, "clip": true},
              "encoding": {
                "x": {"field": "it", "type": "quantitative", "title": "[Iter.]", "scale": {"domain": [0, 2500], "nice": false, "zero": false}, "axis": {"values": [0, 500, 1000, 1500, 2000], "format": "d", "titleX": 411}},
                "y": {"field": "lo", "type": "quantitative", "title": "[J]", "scale": {"domain": [7.4, 116.1], "nice": false, "zero": false}, "axis": {"values": [20, 40, 60, 80, 100], "titleAngle": 0, "titleX": -16, "titleY": 4, "titleAlign": "center", "titleBaseline": "middle", "titleFontStyle": "italic"}},
                "y2": {"field": "hi"},
                "fill": {"field": "algo", "type": "nominal", "scale": {"domain": ["ECO", "P3O", "IPO1", "IPO10", "CRPO"], "range": ["#F47B6C", "#79A8D4", "#B6ABDB", "#88D1C0", "#FDB474"]}, "legend": null}
              }
            },
            {
              "data": {"values": [{}]},
              "mark": {"type": "rule", "color": "black", "strokeWidth": 4, "strokeDash": [14, 8]},
              "encoding": {"y": {"datum": 60, "type": "quantitative", "title": "[J]"}}
            },
            {
              "transform": [{"filter": "datum.algo != 'ECO'"}],
              "mark": {"type": "line", "strokeWidth": 5},
              "encoding": {
                "x": {"field": "it", "type": "quantitative", "title": "[Iter.]"},
                "y": {"field": "m", "type": "quantitative", "title": "[J]"},
                "color": {"field": "algo", "type": "nominal", "scale": {"domain": ["ECO", "P3O", "IPO1", "IPO10", "CRPO"], "range": ["#F47B6C", "#79A8D4", "#B6ABDB", "#88D1C0", "#FDB474"]}, "legend": {"orient": "none", "legendX": 142.5, "legendY": -44, "direction": "horizontal", "title": null, "symbolType": "stroke", "symbolSize": 1600, "symbolStrokeWidth": 7, "labelFont": "Liberation Serif", "labelFontSize": 19, "labelColor": "#111", "columnPadding": 19, "labelOffset": 2, "labelExpr": "datum.label === 'IPO1' ? 'IPO 𝜅₁\u2002=\u20021' : datum.label === 'IPO10' ? 'IPO 𝜅₁\u2002=\u200210' : datum.label"}}
              }
            },
            {
              "transform": [{"filter": "datum.algo == 'ECO'"}],
              "mark": {"type": "line", "strokeWidth": 5},
              "encoding": {
                "x": {"field": "it", "type": "quantitative", "title": "[Iter.]"},
                "y": {"field": "m", "type": "quantitative", "title": "[J]"},
                "color": {"field": "algo", "type": "nominal", "scale": {"domain": ["ECO", "P3O", "IPO1", "IPO10", "CRPO"], "range": ["#F47B6C", "#79A8D4", "#B6ABDB", "#88D1C0", "#FDB474"]}, "legend": {"orient": "none", "legendX": 142.5, "legendY": -44, "direction": "horizontal", "title": null, "symbolType": "stroke", "symbolSize": 1600, "symbolStrokeWidth": 7, "labelFont": "Liberation Serif", "labelFontSize": 19, "labelColor": "#111", "columnPadding": 19, "labelOffset": 2, "labelExpr": "datum.label === 'IPO1' ? 'IPO 𝜅₁\u2002=\u20021' : datum.label === 'IPO10' ? 'IPO 𝜅₁\u2002=\u200210' : datum.label"}}
              }
            },
            {
              "data": {"values": [{}]},
              "mark": {"type": "text", "align": "left", "baseline": "middle", "font": "Liberation Serif", "fontSize": 19, "color": "#111"},
              "encoding": {"x": {"datum": 62, "type": "quantitative", "title": "[Iter.]"}, "y": {"datum": 97, "type": "quantitative", "title": "[J]"}, "text": {"value": "60 𝐽 = 2.5 𝑊 × 24 𝑠"}}
            },
            {
              "data": {"values": [{}]},
              "mark": {"type": "rule", "color": "black", "strokeWidth": 3.5},
              "encoding": {"x": {"datum": 457, "type": "quantitative", "title": "[Iter.]"}, "y": {"datum": 93.2, "type": "quantitative", "title": "[J]"}, "y2": {"datum": 74}}
            },
            {
              "data": {"values": [{}]},
              "mark": {"type": "point", "shape": "triangle-down", "filled": true, "color": "black", "opacity": 1, "size": 190},
              "encoding": {"x": {"datum": 457, "type": "quantitative", "title": "[Iter.]"}, "y": {"datum": 72.4, "type": "quantitative", "title": "[J]"}}
            }
          ]
        },
        {
          "width": 481, "height": 286,
          "data": {"name": "mirror"},
          "title": {"text": "(b) Mean Mirror Cost", "dx": -16, "offset": 15},
          "layer": [
            {
              "mark": {"type": "area", "opacity": 0.27, "clip": true},
              "encoding": {
                "x": {"field": "it", "type": "quantitative", "title": "[Iter.]", "scale": {"domain": [0, 2500], "nice": false, "zero": false}, "axis": {"values": [0, 500, 1000, 1500, 2000], "format": "d", "titleX": 410}},
                "y": {"field": "lo", "type": "quantitative", "title": null, "scale": {"domain": [0, 0.1244], "nice": false, "zero": false}, "axis": {"values": [0.02, 0.04, 0.06, 0.08, 0.1, 0.12], "format": ".2f"}},
                "y2": {"field": "hi"},
                "fill": {"field": "algo", "type": "nominal", "scale": {"domain": ["ECO", "P3O", "IPO1", "IPO10", "CRPO"], "range": ["#F47B6C", "#79A8D4", "#B6ABDB", "#88D1C0", "#FDB474"]}, "legend": null}
              }
            },
            {
              "data": {"values": [{}]},
              "mark": {"type": "rule", "color": "black", "strokeWidth": 4, "strokeDash": [14, 8]},
              "encoding": {"y": {"datum": 0.05, "type": "quantitative", "title": null}}
            },
            {
              "transform": [{"filter": "datum.algo != 'ECO'"}],
              "mark": {"type": "line", "strokeWidth": 5},
              "encoding": {
                "x": {"field": "it", "type": "quantitative", "title": "[Iter.]"},
                "y": {"field": "m", "type": "quantitative", "title": null},
                "color": {"field": "algo", "type": "nominal", "scale": {"domain": ["ECO", "P3O", "IPO1", "IPO10", "CRPO"], "range": ["#F47B6C", "#79A8D4", "#B6ABDB", "#88D1C0", "#FDB474"]}, "legend": null}
              }
            },
            {
              "transform": [{"filter": "datum.algo == 'ECO'"}],
              "mark": {"type": "line", "strokeWidth": 5},
              "encoding": {
                "x": {"field": "it", "type": "quantitative", "title": "[Iter.]"},
                "y": {"field": "m", "type": "quantitative", "title": null},
                "color": {"field": "algo", "type": "nominal", "scale": {"domain": ["ECO", "P3O", "IPO1", "IPO10", "CRPO"], "range": ["#F47B6C", "#79A8D4", "#B6ABDB", "#88D1C0", "#FDB474"]}, "legend": null}
              }
            }
          ]
        },
        {
          "width": 482, "height": 286,
          "data": {"name": "length"},
          "title": {"text": "(c) Normalized Episode Length", "dx": -12, "offset": 5},
          "layer": [
            {
              "mark": {"type": "area", "opacity": 0.27, "clip": true},
              "encoding": {
                "x": {"field": "it", "type": "quantitative", "title": "[Iter.]", "scale": {"domain": [0, 2500], "nice": false, "zero": false}, "axis": {"values": [0, 500, 1000, 1500, 2000], "format": "d", "titleX": 411}},
                "y": {"field": "lo", "type": "quantitative", "title": null, "scale": {"domain": [-0.057, 1.132], "nice": false, "zero": false}, "axis": {"values": [0, 0.2, 0.4, 0.6, 0.8, 1.0], "format": ".1f"}},
                "y2": {"field": "hi"},
                "fill": {"field": "algo", "type": "nominal", "scale": {"domain": ["ECO", "P3O", "IPO1", "IPO10", "CRPO"], "range": ["#F47B6C", "#79A8D4", "#B6ABDB", "#88D1C0", "#FDB474"]}, "legend": null}
              }
            },
            {
              "transform": [{"filter": "datum.algo != 'ECO'"}],
              "mark": {"type": "line", "strokeWidth": 5},
              "encoding": {
                "x": {"field": "it", "type": "quantitative", "title": "[Iter.]"},
                "y": {"field": "m", "type": "quantitative", "title": null},
                "color": {"field": "algo", "type": "nominal", "scale": {"domain": ["ECO", "P3O", "IPO1", "IPO10", "CRPO"], "range": ["#F47B6C", "#79A8D4", "#B6ABDB", "#88D1C0", "#FDB474"]}, "legend": null}
              }
            },
            {
              "transform": [{"filter": "datum.algo == 'ECO'"}],
              "mark": {"type": "line", "strokeWidth": 5},
              "encoding": {
                "x": {"field": "it", "type": "quantitative", "title": "[Iter.]"},
                "y": {"field": "m", "type": "quantitative", "title": null},
                "color": {"field": "algo", "type": "nominal", "scale": {"domain": ["ECO", "P3O", "IPO1", "IPO10", "CRPO"], "range": ["#F47B6C", "#79A8D4", "#B6ABDB", "#88D1C0", "#FDB474"]}, "legend": null}
              }
            }
          ]
        },
        {
          "width": 484, "height": 286,
          "data": {"name": "reward"},
          "title": {"text": "(d) Normalized Total Reward", "dx": 0, "offset": 5},
          "layer": [
            {
              "mark": {"type": "area", "opacity": 0.27, "clip": true},
              "encoding": {
                "x": {"field": "it", "type": "quantitative", "title": "[Iter.]", "scale": {"domain": [0, 2500], "nice": false, "zero": false}, "axis": {"values": [0, 500, 1000, 1500, 2000], "format": "d", "titleX": 413}},
                "y": {"field": "lo", "type": "quantitative", "title": null, "scale": {"domain": [-0.052, 1.1], "nice": false, "zero": false}, "axis": {"values": [0, 0.2, 0.4, 0.6, 0.8, 1.0], "format": ".1f"}},
                "y2": {"field": "hi"},
                "fill": {"field": "algo", "type": "nominal", "scale": {"domain": ["ECO", "P3O", "IPO1", "IPO10", "CRPO"], "range": ["#F47B6C", "#79A8D4", "#B6ABDB", "#88D1C0", "#FDB474"]}, "legend": null}
              }
            },
            {
              "transform": [{"filter": "datum.algo != 'ECO'"}],
              "mark": {"type": "line", "strokeWidth": 5},
              "encoding": {
                "x": {"field": "it", "type": "quantitative", "title": "[Iter.]"},
                "y": {"field": "m", "type": "quantitative", "title": null},
                "color": {"field": "algo", "type": "nominal", "scale": {"domain": ["ECO", "P3O", "IPO1", "IPO10", "CRPO"], "range": ["#F47B6C", "#79A8D4", "#B6ABDB", "#88D1C0", "#FDB474"]}, "legend": null}
              }
            },
            {
              "transform": [{"filter": "datum.algo == 'ECO'"}],
              "mark": {"type": "line", "strokeWidth": 5},
              "encoding": {
                "x": {"field": "it", "type": "quantitative", "title": "[Iter.]"},
                "y": {"field": "m", "type": "quantitative", "title": null},
                "color": {"field": "algo", "type": "nominal", "scale": {"domain": ["ECO", "P3O", "IPO1", "IPO10", "CRPO"], "range": ["#F47B6C", "#79A8D4", "#B6ABDB", "#88D1C0", "#FDB474"]}, "legend": null}
              }
            }
          ]
        }
      ]
    }
  ],
  "config": {
    "font": "Liberation Serif",
    "view": {"stroke": "#6e6e6e", "strokeWidth": 1.4},
    "axis": {
      "labelFont": "Liberation Serif", "labelFontSize": 17, "labelColor": "#111",
      "ticks": false, "tickSize": 0, "domain": false,
      "grid": true, "gridColor": "#e3e3e3", "gridWidth": 1,
      "titleFont": "Liberation Serif", "titleFontSize": 17, "titleFontWeight": "normal", "titleColor": "#111"
    },
    "axisX": {"labelPadding": 7, "labelFlush": true, "titleY": 7, "titleAlign": "left", "titleBaseline": "top"},
    "axisY": {"labelPadding": 6},
    "title": {"font": "Liberation Serif", "fontSize": 18, "fontWeight": "normal", "orient": "bottom", "anchor": "middle", "offset": 10, "color": "#111"}
  }
}
